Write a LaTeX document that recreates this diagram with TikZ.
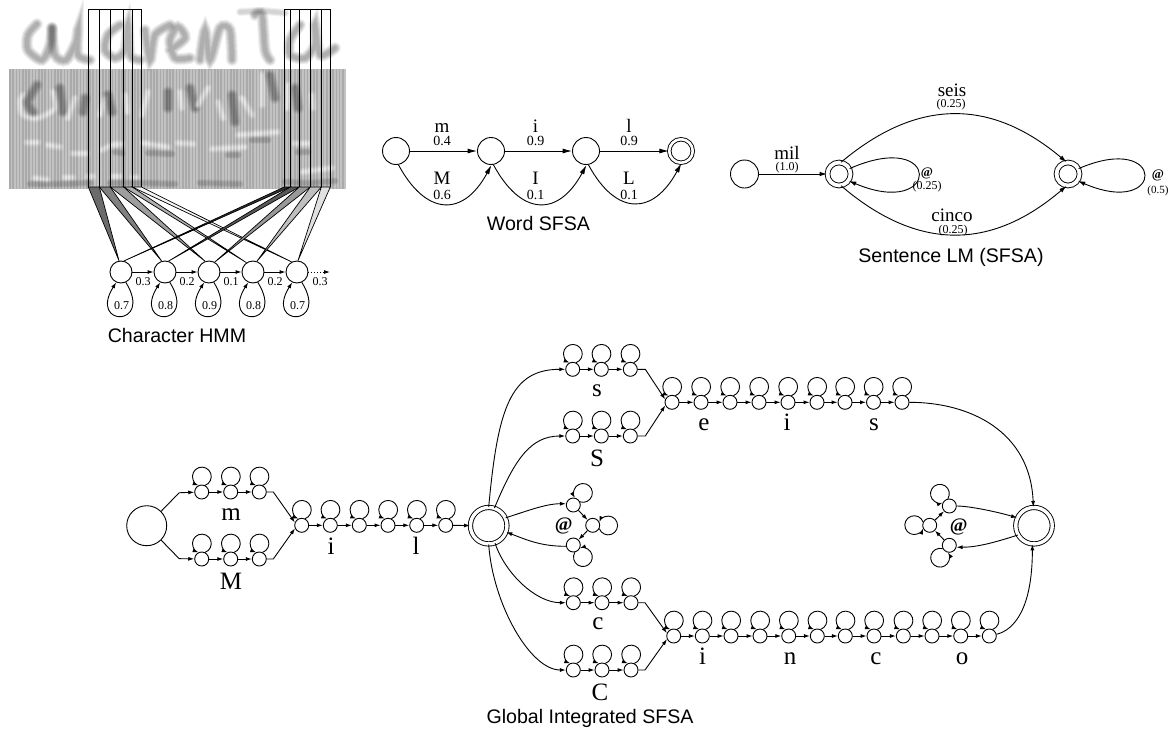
\documentclass[tikz,border=0pt]{standalone}
\usepackage{fontspec}
\setmainfont{Liberation Serif}
\newfontfamily\capfont{Liberation Sans}
\usetikzlibrary{arrows.meta,calc,positioning}
\tikzset{
  smallarc/.style={-{Latex[length=6pt,width=4pt]},line width=.9pt},
  midarc/.style={-{Latex[length=7.5pt,width=4.5pt]},line width=.9pt},
  bigarc/.style={-{Latex[length=9.5pt,width=5pt]},line width=.9pt},
  hmmst/.style={circle,draw,fill=white,line width=.9pt,minimum size=22pt,inner sep=0pt},
  wordst/.style={circle,draw,line width=.9pt,minimum size=27pt,inner sep=0pt},
  wordfin/.style={circle,draw,line width=.9pt,double,double distance=2.6pt,minimum size=23.5pt,inner sep=0pt},
  lmfin/.style={circle,draw,line width=.9pt,double,double distance=3.8pt,minimum size=23pt,inner sep=0pt},
  gstart/.style={circle,draw,line width=.9pt,minimum size=40pt,inner sep=0pt},
  gfin/.style={circle,draw,line width=.9pt,double,double distance=3.4pt,minimum size=36.5pt,inner sep=0pt},
  smallst/.style={circle,draw,line width=.9pt,minimum size=14pt,inner sep=0pt},
  caplab/.style={font=\capfont\fontsize{19.6}{22}\selectfont,inner sep=0pt},
  arclab/.style={font=\fontsize{19}{22}\selectfont,inner sep=0pt,anchor=base},
  problab/.style={font=\fontsize{12}{14}\selectfont,inner sep=0pt},
  wordprob/.style={font=\fontsize{14}{16}\selectfont,inner sep=0pt,anchor=base},
  glab/.style={font=\fontsize{25}{28}\selectfont,inner sep=0pt,anchor=base},
  atlab/.style={font=\bfseries\fontsize{19}{20}\selectfont,inner sep=0pt},
  lmat/.style={font=\bfseries\fontsize{13}{15}\selectfont,inner sep=0pt},
}
\newcommand{\hand}[2]{%
  \foreach \wd/\op in {12/.06,10/.07,8/.08,6/.08,4/.08}{%
    \draw[#1,line width=\wd pt,opacity=\op,line cap=round] plot[smooth] coordinates {#2};}}
\newcommand{\glow}[1]{%
  \foreach \wd/\op in {9/.10,7/.16,5/.22,3/.30}{%
    \draw[white,line width=\wd pt,opacity=\op,line cap=round] plot[smooth] coordinates {#1};}}
\newcommand{\faint}[1]{%
  \foreach \wd/\op in {8/.05,6/.06,4/.07}{%
    \draw[black,line width=\wd pt,opacity=\op,line cap=round] plot[smooth] coordinates {#1};}}
\newcommand{\selfloop}[2]{%
  \pgfmathsetmacro{\angout}{#2-27}\pgfmathsetmacro{\angst}{#2-160}\pgfmathsetmacro{\angen}{#2+160}%
  \draw[smallarc] (#1.\angout) arc[start angle=\angst,end angle=\angen,radius=9.4];}
\newcommand{\looprow}[3]{%
  \foreach \xx [count=\i,remember=\i as \j (initially 0)] in {#3}{%
    \node[smallst] (#1\i) at (\xx,#2) {};
    \selfloop{#1\i}{90}
    \ifnum\i>1 \draw[smallarc] (#1\j) -- (#1\i); \fi
  }}
\begin{document}
\begin{tikzpicture}[x=1pt,y=1pt]
  \useasboundingbox (0,0) rectangle (1169,-731);
  \begin{scope}[yscale=-1]
    \fill[black!24] (9,69) rectangle (346,189);
    \hand{black}{(37,24) (28,35) (28,50) (42,60) (50,45) (52,28)}
    \hand{black}{(52,28) (55,55) (66,60) (76,42) (78,30) (78,55) (90,60)}
    \hand{black}{(120,25) (108,35) (105,50) (115,58) (125,50) (128,25) (130,55) (140,60)}
    \hand{black}{(145,30) (150,60) (155,35) (170,25)}
    \hand{black}{(170,50) (185,38) (178,27) (170,40) (175,58) (190,58)}
    \hand{black}{(200,60) (205,30) (210,60) (220,28) (230,30) (232,60)}
    \hand{black}{(255,15) (262,15) (265,50) (270,60)}
    \faint{(240,12) (262,11) (285,13)}
    \hand{black}{(300,25) (290,40) (290,55) (305,58) (315,45) (315,25) (320,55) (335,48)}
    \glow{(23,95) (20,102) (23,115) (38,118) (55,108) (53,92)}
    \hand{black}{(37,85) (28,102) (33,112)}
    \hand{black}{(60,88) (63,112)}
    \glow{(75,98) (68,118)}
    \hand{black}{(85,98) (83,112)}
    \glow{(105,98) (100,115)}
    \hand{black}{(108,95) (112,112)}
    \glow{(125,95) (127,112)}
    \glow{(148,92) (142,115)}
    \hand{black}{(168,92) (168,108)}
    \glow{(180,92) (182,108)}
    \hand{black}{(190,88) (195,108)}
    \glow{(208,88) (198,105)}
    \glow{(218,102) (223,118)}
    \hand{black}{(232,95) (235,122)}
    \glow{(242,98) (252,115)}
    \glow{(262,75) (262,105)}
    \hand{black}{(270,75) (275,98)}
    \glow{(288,85) (287,108)}
    \hand{black}{(295,88) (298,108)}
    \glow{(312,95) (313,108)}
    \glow{(27,142) (38,142)}
    \glow{(48,145) (60,147)}
    \glow{(73,153) (87,153)}
    \glow{(102,150) (112,145) (122,144)}
    \glow{(143,143) (168,147)}
    \glow{(178,143) (193,144)}
    \glow{(212,149) (245,147)}
    \glow{(238,135) (278,132)}
    \glow{(295,143) (308,143)}
    \glow{(302,172) (332,168)}
    \glow{(35,178) (47,180)}
    \glow{(65,177) (73,177)}
    \glow{(88,176) (93,176)}
    \glow{(113,176) (120,176)}
    \glow{(133,177) (137,177)}
    \faint{(30,184) (60,184) (90,183)}
    \faint{(110,183) (140,183) (175,184)}
    \faint{(200,183) (240,184)}
    \faint{(285,182) (310,183) (335,181)}
    \faint{(115,152) (122,153)}
    \faint{(148,153) (172,154)}
    \faint{(228,155) (238,155)}
    \faint{(252,140) (268,140)}
    \faint{(298,152) (308,152)}
    \foreach \xx in {10,13.2,...,345}{\draw[black,opacity=.12,line width=1.6pt] (\xx,69) -- (\xx,189);}
  \end{scope}

  \foreach \nam/\xx in {ha/121,hb/165,hc/209,hd/253,he/297}{\node[hmmst] (\nam) at (\xx,-272) {};}
  \coordinate (htail) at (330,-272);
  \foreach \xx [count=\i] in {88.3,99.3,110.3,123.7,132.3,141.3}{
    \coordinate (lf\i) at (\xx,-187);
    \draw[line width=1pt] (lf\i) -- ++(0,178);}
  \foreach \xx [count=\i] in {284.3,290.3,299.3,310.3,321.3,330.3}{
    \coordinate (rf\i) at (\xx,-187);
    \draw[line width=1pt] (rf\i) -- ++(0,178);}
  \draw[line width=1pt] ($(lf1)+(0,178)$) -- ($(lf6)+(0,178)$) ($(rf1)+(0,178)$) -- ($(rf6)+(0,178)$);
  \draw[line width=1pt] (lf1) -- (lf6) (rf1) -- (rf6);
  \foreach \a/\b/\st/\ang/\shd in {lf1/lf2/ha/100/58,lf2/lf3/hb/107/50,lf3/lf4/hc/110/38,lf4/lf5/hd/125/30,lf5/lf6/he/118/4,
      rf1/rf2/ha/75/80,rf2/rf3/hb/72/65,rf3/rf4/hc/60/40,rf4/rf5/hd/70/25,rf5/rf6/he/85/12}{
    \filldraw[fill=black!\shd,draw=black,line width=.7pt] (\a) -- (\b) -- (\st.\ang) -- cycle;}
  \foreach \a/\b/\lab/\xx in {ha/hb/0.3/143,hb/hc/0.2/187,hc/hd/0.1/231,hd/he/0.2/275}{
    \draw[smallarc] (\a) -- (\b);
    \node[problab] (t\a) at (\xx,-282) {\lab};}
  \draw[smallarc,dotted] (he) -- (htail);
  \node[problab] (the) at (320,-282) {0.3};
  \foreach \nam/\lab in {ha/0.7,hb/0.8,hc/0.9,hd/0.8,he/0.7}{
    \draw[smallarc] (\nam.-65) .. controls +(28,-45) and +(-28,-45) .. (\nam.-115);
    \node[problab] (l\nam) at ($(\nam)+(0.5,-33.5)$) {\lab};}
  \node[caplab] (hmmcap) at (177,-335) {Character HMM};

  \node[wordst] (wa) at (396,-151) {};
  \node[wordst] (wb) at (491,-151) {};
  \node[wordst] (wc) at (586,-151) {};
  \node[wordfin] (wd) at (681,-151) {};
  \foreach \a/\b in {wa/wb,wb/wc,wc/wd}{
    \draw[bigarc] (\a) -- (\b);
    \draw[bigarc] (\a.-80) .. controls +(28,-52) and +(-28,-52) .. (\b.-88);}
  \foreach \up/\upp/\dn/\dnp/\xx in {m/0.4/M/0.6/442,i/0.9/I/0.1/535.5,l/0.9/L/0.1/629}{
    \node[arclab] (w\up) at (\xx,-132) {\up};
    \node[wordprob] (p\up) at (\xx,-145) {\upp};
    \node[arclab] (w\dn) at (\xx,-184.3) {\dn};
    \node[wordprob] (p\dn) at (\xx,-199) {\dnp};}
  \node[caplab] (wordcap) at (538.5,-223) {Word SFSA};

  \node[wordst,minimum size=28pt] (lma) at (744.5,-174) {};
  \node[lmfin] (lmb) at (839,-174) {};
  \node[lmfin] (lmc) at (1068,-174) {};
  \draw[midarc] (lma) -- (lmb);
  \draw[midarc] (lmb.80) .. controls +(76,64) and +(-76,64) .. (lmc.97);
  \draw[midarc] (lmb.-80) .. controls +(76,-65) and +(-76,-65) .. (lmc.-97);
  \draw[midarc] (lmb.27) .. controls +(93,41) and +(92,-39) .. (lmb.-35);
  \draw[midarc] (lmc.27) .. controls +(88,38) and +(88,-38) .. (lmc.-35);
  \node[arclab] (lmil) at (787,-159.3) {mil};
  \node[problab] (pmil) at (787,-168) {(1.0)};
  \node[arclab] (lseis) at (952,-96) {seis};
  \node[problab] (pseis) at (951,-105) {(0.25)};
  \node[arclab] (lcinco) at (952,-221) {cinco};
  \node[problab] (pcinco) at (953,-230.5) {(0.25)};
  \node[lmat] (lat) at (927,-173) {@};
  \node[problab] (pat) at (927,-187) {(0.25)};
  \node[lmat] (lbt) at (1158,-175) {@};
  \node[problab,font=\fontsize{11}{13}\selectfont] (pbt) at (1158,-191) {(0.5)};
  \node[caplab] (lmcap) at (951,-257) {Sentence LM (SFSA)};

  \node[gstart] (start) at (146.7,-525.7) {};
  \node[gfin] (fa) at (488.7,-525.7) {};
  \node[gfin] (fb) at (1034,-525.7) {};
  \looprow{m}{-492}{201.7,230.7,259.3}
  \looprow{M}{-559}{201.7,230.7,259.3}
  \looprow{il}{-525.3}{301.7,330.3,359.3,388,416.7,445.7}
  \looprow{s}{-369.3}{572.7,601.3,630.3}
  \looprow{S}{-436}{572.7,601.3,630.3}
  \looprow{se}{-402.3}{672,701,730,759,788,817,845,873.5,902}
  \looprow{c}{-602.7}{573.3,602,631}
  \looprow{C}{-670}{573.3,602,631}
  \looprow{ci}{-636}{673.7,702.3,731,760,788.7,817.3,845.3,874,903.3,932,960.7,989.3}
  \foreach \nam/\xx/\yy/\dir in {ga/573.3/505/52,gam/592.7/525.3/0,gc/573.3/545/-51,gb1/949.3/506/128,gb2/929.7/525.3/180,gb3/949.3/545.3/234}{
    \node[smallst] (\nam) at (\xx,-\yy) {};
    \selfloop{\nam}{\dir}}
  \draw[smallarc] (start.45) -- ++(18,18.5) -- (m1);
  \draw[smallarc] (start.-45) -- ++(18,-18.5) -- (M1);
  \draw[smallarc] (m3) -- ++(14,0) -- (il1.157);
  \draw[smallarc] (M3) -- ++(14,0) -- (il1.205);
  \draw[smallarc] (il6) -- (fa);
  \draw[smallarc] (s3) -- ++(15,0) -- (se1.157);
  \draw[smallarc] (S3) -- ++(15,0) -- (se1.205);
  \draw[smallarc] (c3) -- ++(14,0) -- (ci1.157);
  \draw[smallarc] (C3) -- ++(14,0) -- (ci1.205);
  \draw[smallarc] (fa.90) .. controls +(9,98) and +(-55,0) .. (s1.180);
  \draw[smallarc] (fa.72) .. controls +(20,48) and +(-35,0) .. (S1.180);
  \draw[smallarc] (fa.25) .. controls +(22,7) and +(-20,0) .. (ga.170);
  \draw[smallarc] (gc.190) .. controls +(-25,0) and +(21,-8) .. (fa.-20);
  \draw[smallarc] (fa.-70) .. controls +(10,-30) and +(-30,0) .. (c1.180);
  \draw[smallarc] (fa.-90) .. controls +(4,-59) and +(-36,0) .. (C1.180);
  \draw[smallarc] (se9) .. controls +(69,0) and +(-3,75) .. (fb.92);
  \draw[smallarc] (ci12) .. controls +(25,6) and +(0,-64) .. (fb.-95);
  \draw[smallarc] (gb1) .. controls +(20,0) and +(-20,6) .. (fb.155);
  \draw[smallarc] (fb.-150) .. controls +(-25,-8) and +(20,0) .. (gb3.-15);
  \draw[smallarc] (gb2) -- (gb1);
  \draw[smallarc] (gb3) -- (gb2);
  \draw[smallarc] (ga) -- (gam);
  \draw[smallarc] (gam) -- (gc);
  \node[atlab] (gat) at (563.7,-525.7) {@};
  \node[atlab] (gbt) at (958.7,-526.7) {@};
  \foreach \lab/\xx/\yy in {m/231/520,M/231/589.3,i/331/554,l/416/554,s/597/396.7,S/597/466.7,e/704/430.5,i/787/430.5,s/874/430.5,c/598/629.3,C/600/700.7,i/702.7/664,n/790/664,c/876/664,o/962/664}{
    \node[glab] (g\lab\xx) at (\xx,-\yy) {\lab};}
  \node[caplab] (gcap) at (590,-718) {Global Integrated SFSA};
\end{tikzpicture}
\end{document}
